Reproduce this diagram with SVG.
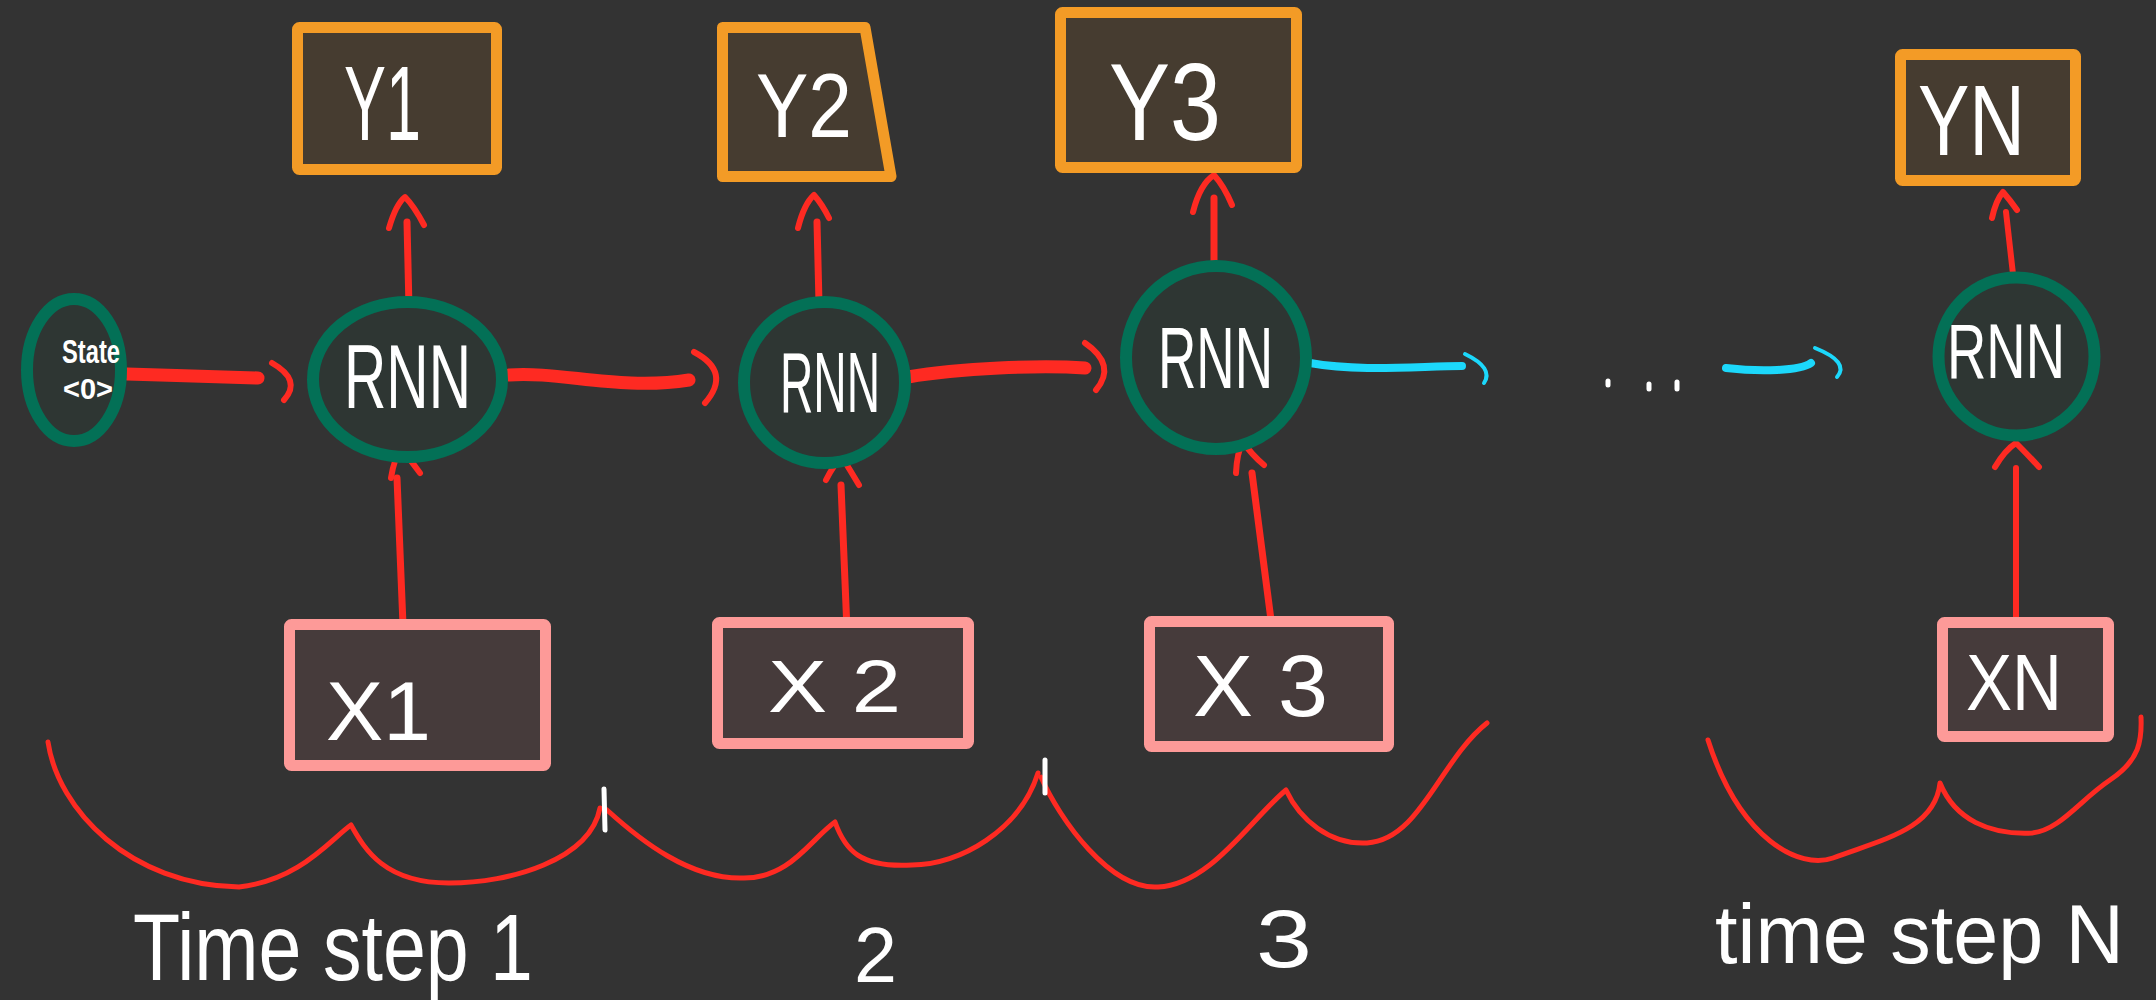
<svg xmlns="http://www.w3.org/2000/svg" width="2156" height="1000" viewBox="0 0 2156 1000">
  <style>
    .bg { fill: #333333; }
    .ybox { fill: #463c30; stroke: #f39b26; stroke-width: 11; stroke-linejoin: round; }
    .xbox { fill: #463b3b; stroke: #fd9a98; stroke-width: 11; stroke-linejoin: round; }
    .cell { fill: #2e3633; stroke: #037056; stroke-width: 12; }
    .hand { fill: #ffffff; font-family: "Liberation Sans", Arial, sans-serif; }
    .wire { fill: none; stroke: #fe2a22; stroke-linecap: round; stroke-linejoin: round; }
    .thick { stroke-width: 13; }
    .thin { stroke-width: 7; }
    .head { stroke-width: 6; }
    .loop { fill: none; stroke: #fe2a22; stroke-width: 5; stroke-linecap: round; stroke-linejoin: round; }
    .cyan { fill: none; stroke: #1cd8fb; stroke-linecap: round; stroke-linejoin: round; }
    .tick { stroke: #ffffff; stroke-width: 5; stroke-linecap: round; }
  </style>

  <rect class="bg" x="0" y="0" width="2156" height="1000"/>

  <!-- connectors -->
  <g id="connectors">
    <!-- initial state into first cell -->
    <path class="wire thick" d="M127,374 C170,375 220,377 258,378"/>
    <path class="wire head" d="M272,363 Q302,380 284,400"/>
    <!-- hidden state 1 -> 2 -->
    <path class="wire thick" d="M509,375 C560,371 620,391 689,380"/>
    <path class="wire head" d="M694,352 Q732,372 705,403"/>
    <!-- hidden state 2 -> 3 -->
    <path class="wire thick" d="M908,377 C960,368 1040,365 1085,368"/>
    <path class="wire head" d="M1085,343 Q1117,365 1096,390"/>
    <!-- hidden state 3 -> ... -> N -->
    <path class="cyan" stroke-width="8" d="M1310,363 C1360,372 1420,366 1462,366"/>
    <path class="cyan" stroke-width="4" d="M1465,354 Q1494,368 1484,383"/>
    <path class="cyan" stroke-width="8" d="M1726,368 C1760,372 1800,371 1811,363"/>
    <path class="cyan" stroke-width="4" d="M1815,348 Q1850,362 1837,377"/>
    <!-- outputs -->
    <path class="wire thin" d="M409,308 L407,222"/>
    <path class="wire head" d="M389,228 Q396,204 405,197 Q414,206 424,225"/>
    <path class="wire thin" d="M819,303 L817,222"/>
    <path class="wire head" d="M798,228 Q804,204 814,195 Q822,204 829,218"/>
    <path class="wire thin" d="M1214,275 L1214,198"/>
    <path class="wire head" d="M1193,212 Q1200,184 1214,175 Q1224,186 1232,205"/>
    <path class="wire head" d="M2014,283 L2006,212"/>
    <path class="wire head" d="M1992,218 Q1996,200 2003,192 Q2010,200 2017,210"/>
    <!-- inputs -->
    <path class="wire thin" d="M403,625 L397,478"/>
    <path class="wire head" d="M391,478 Q394,458 402,448 Q410,460 420,473"/>
    <path class="wire thin" d="M847,630 L841,485"/>
    <path class="wire head" d="M826,480 Q834,464 842,457 Q850,470 859,485"/>
    <path class="wire thin" d="M1271,620 L1252,473"/>
    <path class="wire head" d="M1236,473 Q1237,452 1243,442 Q1252,455 1264,465"/>
    <path class="wire head" d="M2016,622 L2016,468"/>
    <path class="wire head" d="M1995,467 Q2005,450 2016,443 Q2028,455 2039,467"/>
  </g>

  <!-- initial state -->
  <g id="state0">
    <ellipse class="cell" cx="74" cy="370" rx="47" ry="71"/>
    <text class="hand" x="62" y="363" font-size="34" font-weight="bold" textLength="58" lengthAdjust="spacingAndGlyphs">State</text>
    <text class="hand" x="63" y="399" font-size="30" font-weight="bold" textLength="50" lengthAdjust="spacingAndGlyphs">&lt;0&gt;</text>
  </g>

  <!-- recurrent cells -->
  <g id="rnn1">
    <ellipse class="cell" cx="407.5" cy="379.5" rx="94.5" ry="77.5"/>
    <text class="hand" x="344" y="408" font-size="90" textLength="127" lengthAdjust="spacingAndGlyphs">RNN</text>
  </g>
  <g id="rnn2">
    <ellipse class="cell" cx="824.5" cy="382.5" rx="80.5" ry="80.5"/>
    <text class="hand" x="780" y="412" font-size="86" textLength="100" lengthAdjust="spacingAndGlyphs">RNN</text>
  </g>
  <g id="rnn3">
    <ellipse class="cell" cx="1216" cy="357.5" rx="90" ry="91.5"/>
    <text class="hand" x="1158" y="388" font-size="88" textLength="115" lengthAdjust="spacingAndGlyphs">RNN</text>
  </g>
  <g id="rnnN">
    <ellipse class="cell" cx="2016.5" cy="356.5" rx="78" ry="79" stroke-width="8"/>
    <text class="hand" x="1947" y="378" font-size="77" textLength="118" lengthAdjust="spacingAndGlyphs">RNN</text>
  </g>

  <!-- outputs -->
  <g id="y1">
    <rect class="ybox" x="297.5" y="27.5" width="199" height="142" rx="2"/>
    <text class="hand" x="344" y="140" font-size="106" textLength="77" lengthAdjust="spacingAndGlyphs">Y1</text>
  </g>
  <g id="y2">
    <path class="ybox" d="M722.5,27.5 L865,27.5 L891,176.5 L722.5,176.5 Z"/>
    <text class="hand" x="756" y="137" font-size="90" textLength="96" lengthAdjust="spacingAndGlyphs">Y2</text>
  </g>
  <g id="y3">
    <rect class="ybox" x="1060.5" y="12.5" width="236" height="155" rx="2"/>
    <text class="hand" x="1109" y="140" font-size="110" textLength="112" lengthAdjust="spacingAndGlyphs">Y3</text>
  </g>
  <g id="yN">
    <rect class="ybox" x="1900.5" y="54.5" width="175" height="126" rx="2" stroke-width="9"/>
    <text class="hand" x="1918" y="155" font-size="100" textLength="107" lengthAdjust="spacingAndGlyphs">YN</text>
  </g>

  <!-- inputs -->
  <g id="x1">
    <rect class="xbox" x="289.5" y="624.5" width="256" height="141" rx="2"/>
    <text class="hand" x="326" y="740" font-size="84" textLength="105" lengthAdjust="spacingAndGlyphs">X1</text>
  </g>
  <g id="x2">
    <rect class="xbox" x="717.5" y="622.5" width="251" height="121" rx="2"/>
    <text class="hand" x="768" y="712" font-size="75" textLength="133" lengthAdjust="spacingAndGlyphs">X 2</text>
  </g>
  <g id="x3">
    <rect class="xbox" x="1149.5" y="621.5" width="239" height="125" rx="2"/>
    <text class="hand" x="1193" y="716" font-size="88" textLength="135" lengthAdjust="spacingAndGlyphs">X 3</text>
  </g>
  <g id="xN">
    <rect class="xbox" x="1942.5" y="622.5" width="166" height="114" rx="2" stroke-width="9"/>
    <text class="hand" x="1966" y="710" font-size="80" textLength="96" lengthAdjust="spacingAndGlyphs">XN</text>
  </g>

  <!-- ellipsis between cell 3 and cell N -->
  <g id="ellipsis">
    <line class="tick" stroke-width="3" x1="1608" y1="381" x2="1608" y2="385"/>
    <line class="tick" stroke-width="3" x1="1649" y1="384" x2="1649" y2="389"/>
    <line class="tick" stroke-width="3" x1="1677" y1="382" x2="1677" y2="389"/>
  </g>

  <!-- time-step braces -->
  <g id="braces">
    <path class="loop" d="M48,742 C58,810 130,885 239,887 C300,880 330,840 351,825 C365,850 385,883 449,883 C510,883 590,860 600,808"/>
    <path class="loop" d="M607,810 C640,840 690,880 744,878 C790,878 810,840 835,822 C845,850 860,868 912,865 C960,865 1020,830 1038,773"/>
    <path class="loop" d="M1041,777 C1060,820 1110,890 1158,887 C1210,885 1250,820 1286,790 C1300,820 1330,845 1367,843 C1420,840 1440,760 1487,723"/>
    <path class="loop" d="M1708,740 C1740,840 1800,870 1833,858 C1880,840 1935,830 1940,783 C1955,820 1990,835 2032,833 C2060,830 2080,800 2110,780 C2140,760 2142,740 2141,717"/>
    <line class="tick" x1="604" y1="789" x2="605" y2="830"/>
    <line class="tick" x1="1045" y1="760" x2="1045" y2="793"/>
  </g>

  <!-- labels -->
  <g id="labels">
    <text class="hand" x="133" y="980" font-size="94" textLength="400" lengthAdjust="spacingAndGlyphs">Time step 1</text>
    <text class="hand" x="854" y="982" font-size="77" textLength="43" lengthAdjust="spacingAndGlyphs">2</text>
    <text class="hand" x="1256" y="967" font-size="82" textLength="56" lengthAdjust="spacingAndGlyphs">3</text>
    <text class="hand" x="1715" y="963" font-size="84" textLength="409" lengthAdjust="spacingAndGlyphs">time step N</text>
  </g>
</svg>
